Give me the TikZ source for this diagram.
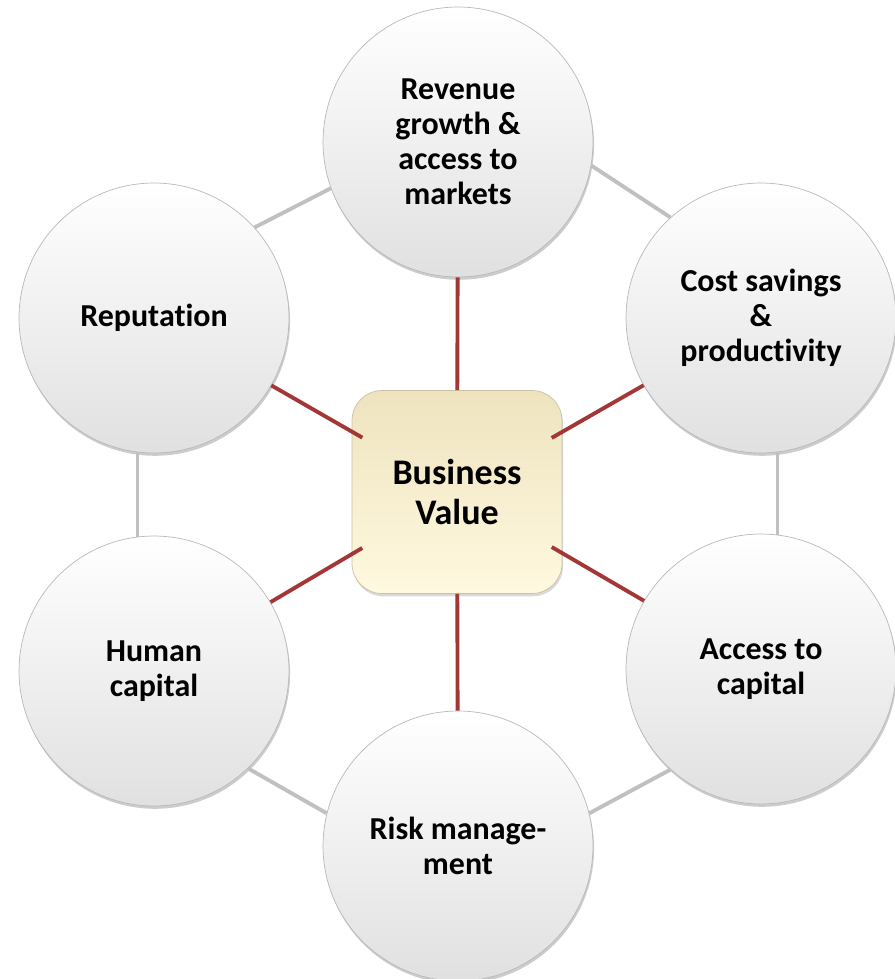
\documentclass[tikz,border=0pt]{standalone}
\usepackage{fontspec}
\setmainfont{Carlito}[Ligatures=NoCommon]
\usepackage{tikz}
\usetikzlibrary{shadows}

\definecolor{linkred}{RGB}{163,54,54}
\definecolor{ringgray}{RGB}{192,192,192}
\definecolor{creamtop}{RGB}{238,227,190}
\definecolor{creambot}{RGB}{255,249,224}

\begin{document}
\begin{tikzpicture}[x=0.02cm, y=-0.02cm,
  bubble/.style={circle, minimum size=5.4cm, inner sep=0pt, draw=gray!55, line width=0.4pt,
    top color=white, bottom color=gray!24,
    drop shadow={opacity=0.4, shadow xshift=0.6pt, shadow yshift=-1.6pt},
    font=\bfseries\fontsize{18.2}{20}\selectfont, align=center},
  valuebox/.style={rectangle, rounded corners=0.6cm, minimum width=4.2cm, minimum height=4.06cm,
    draw=creamtop!85!black, line width=0.4pt, top color=creamtop, bottom color=creambot,
    drop shadow={opacity=0.3, shadow xshift=0.6pt, shadow yshift=-1.6pt},
    font=\bfseries\fontsize{20.5}{22.5}\selectfont, align=center},
  ring/.style={draw=ringgray, line width=2.2pt},
  spoke/.style={draw=linkred, line width=2.2pt},
  spokediag/.style={spoke, shorten >=-7pt}]

% fix the page size
\useasboundingbox (0,0) rectangle (894,979);

% draw the six drivers
\node (rev) [bubble] at (458,142) {Revenue\\growth \&\\access to\\markets};
\node (rep) [bubble] at (154,318) {Reputation};
\node (cost) [bubble] at (761,318) {Cost savings\\\&\\productivity};
\node (hum) [bubble] at (154,671) {Human\\capital};
\node (acc) [bubble] at (761,669) {Access to\\capital};
\node (risk) [bubble] at (458,846) {Risk manage-\\ment};

% draw centre box
\node (bv) [valuebox] at (457,492) {Business\\Value};

% outer ring
\draw[ring] (rep.42) -- (rev.200);
\draw[ring] (rev.-10) -- (cost.132);
\draw[ring] (cost.277) -- (acc.83);
\draw[ring] (acc.228) -- (risk.14);
\draw[ring] (risk.166) -- (hum.314);
\draw[ring] (hum.97) -- (rep.263);

% spokes to the centre
\draw[spoke] (rev) -- (bv);
\draw[spoke] (risk) -- (bv);
\draw[spokediag] (rep) -- (bv);
\draw[spokediag] (cost) -- (bv);
\draw[spokediag] (hum) -- (bv);
\draw[spokediag] (acc) -- (bv);

\end{tikzpicture}
\end{document}
